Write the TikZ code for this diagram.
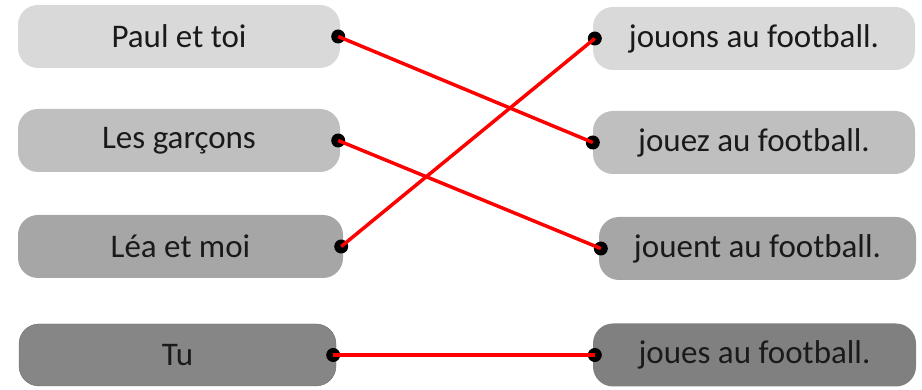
\documentclass[tikz,border=0pt]{standalone}
\usepackage{fontspec}
\setmainfont{Carlito}
\usepackage{tikz}
\usetikzlibrary{calc}
\definecolor{rowa}{HTML}{D9D9D9}
\definecolor{rowb}{HTML}{BFBFBF}
\definecolor{rowc}{HTML}{A6A6A6}
\definecolor{rowd}{HTML}{808080}
\definecolor{linkred}{HTML}{FF0000}
\definecolor{txt}{HTML}{1A1A1A}
\tikzset{every text node part/.style={align=center, text=txt, font={\fontsize{33}{38}\selectfont}}}
\tikzstyle{card} = [rectangle, rounded corners=20pt, minimum width=322pt, minimum height=63pt, inner sep=0pt]
\tikzstyle{dot} = [circle, fill=black, inner sep=0pt, minimum size=14pt]
\tikzstyle{link} = [draw=linkred, line width=3.5pt]

\begin{document}
\begin{tikzpicture}[x=1pt, y=1pt]
    \useasboundingbox (0,0) rectangle (922,390);
    % Nodes
    \node[card, fill=rowa] (paul) at (179,353.5) {Paul et toi};
    \node[card, fill=rowb] (garcons) at (179,249.5) {Les garçons};
    \node[card, fill=rowc, minimum width=325pt] (lea) at (180.5,143.5) {Léa et moi};
    \node[card, fill=rowd!95!white, draw=rowd!85!black, minimum width=317pt, minimum height=62pt] (tu) at (177.5,35) {Tu};

    \node[card, fill=rowa] (jouons) at (754,351.5) {jouons au football.};
    \node[card, fill=rowb] (jouez) at (754,247.5) {jouez au football.};
    \node[card, fill=rowc, minimum width=317pt] (jouent) at (757.5,141.5) {jouent au football.};
    \node[card, fill=rowd, minimum width=323pt] (joues) at (754.5,35) {joues au football.};

    % Dots
    \node[dot] (paul-d) at ([xshift=-2pt]paul.east) {};
    \node[dot] (garcons-d) at ([xshift=-2pt]garcons.east) {};
    \node[dot] (lea-d) at ([xshift=-2pt]lea.east) {};
    \node[dot] (tu-d) at ([xshift=-3pt]tu.east) {};
    \node[dot] (jouons-d) at ([xshift=2pt]jouons.west) {};
    \node[dot] (jouez-d) at (jouez.west) {};
    \node[dot] (jouent-d) at ([xshift=2pt]jouent.west) {};
    \node[dot] (joues-d) at ([xshift=2pt]joues.west) {};

    % Paths
    \draw[link] (paul-d.center) -- (jouez-d.center);
    \draw[link] (garcons-d.center) -- (jouent-d.center);
    \draw[link] (lea-d.center) -- (jouons-d.center);
    \draw[link] (tu-d.center) -- (joues-d.center);
\end{tikzpicture}
\end{document}
